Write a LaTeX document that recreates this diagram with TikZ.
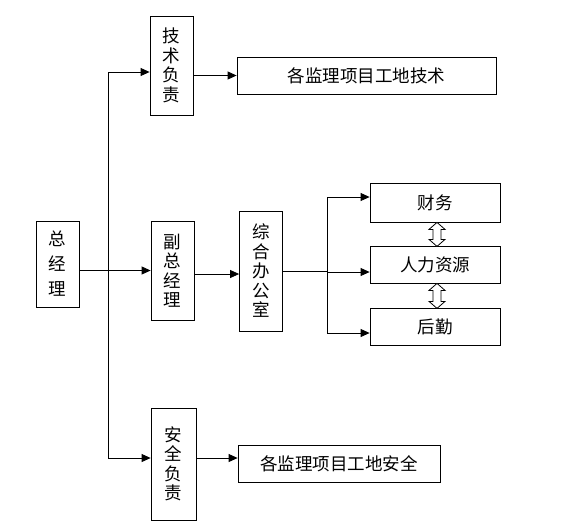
\documentclass[tikz,border=0pt]{standalone}
\usepackage{fontspec}
\setmainfont{Noto Sans CJK SC}
\usetikzlibrary{arrows.meta}

\tikzset{
  box/.style={draw, line width=0.8pt, inner sep=0pt, align=center,
    font=\fontsize{17.5}{19.5}\selectfont},
  arr/.style={line width=0.8pt, -{Triangle[length=9pt,width=8pt]}},
  link/.style={line width=0.8pt}
}

\begin{document}
\begin{tikzpicture}[x=1pt,y=-1pt]
  \useasboundingbox (0,0) rectangle (564,531);

  % Boxes
  \node[box, minimum width=43, minimum height=86,
    font=\fontsize{17.5}{25}\selectfont] (zjl) at (57.5,264) {总\\经\\理};
  \node[box, minimum width=43, minimum height=99] (jsfz) at (171.5,65.5) {技\\术\\负\\责};
  \node[box, minimum width=259, minimum height=37] (jsgd) at (366.5,75.5) {各监理项目工地技术};
  \node[box, minimum width=43, minimum height=99] (fzjl) at (172.5,270.5) {副\\总\\经\\理};
  \node[box, minimum width=43, minimum height=120] (zhbgs) at (261,271) {综\\合\\办\\公\\室};
  \node[box, minimum width=130, minimum height=39] (cw) at (435,202.5) {财务};
  \node[box, minimum width=130, minimum height=37] (rlzy) at (435,264.5) {人力资源};
  \node[box, minimum width=130, minimum height=37] (hq) at (435,326.5) {后勤};
  \node[box, minimum width=45, minimum height=112] (aqfz) at (173.5,464) {安\\全\\负\\责};
  \node[box, minimum width=202, minimum height=37] (aqgd) at (339,463.5) {各监理项目工地安全};

  % Trunk from the general manager
  \coordinate (tt) at (108,72);
  \coordinate (tb) at (108,458);
  \draw[arr] (tt) -- (tt -| jsfz.west);
  \draw[arr] (tt) -- (tb) -- (tb -| aqfz.west);
  \draw[arr] (zjl.east |- fzjl.west) -- (fzjl.west);

  % Second level
  \draw[arr] (jsfz.east |- jsgd.west) -- (jsgd.west);
  \draw[arr] (fzjl.east |- 0,274) -- (zhbgs.west |- 0,274);
  \draw[arr] (aqfz.east |- tb) -- (aqgd.west |- tb);

  % Branch of the office
  \coordinate (b0) at (327,271);
  \coordinate (b1) at (327,197);
  \coordinate (b2) at (327,272);
  \coordinate (b3) at (327,333);
  \draw[link] (zhbgs.east |- b0) -- (b0);
  \draw[link] (b1) -- (b3);
  \draw[arr] (b1) -- (b1 -| cw.west);
  \draw[arr] (b2) -- (b2 -| rlzy.west);
  \draw[arr] (b3) -- (b3 -| hq.west);

  % Hollow double arrows
  \foreach \a/\b/\l in {cw/rlzy/10, rlzy/hq/11}
    \draw[link, fill=white] ([xshift=2]\a.south) -- ++(8,7) -- ++(-4,0) -- ++(0,\l)
      -- ++(4,0) -- ++(-8,7) -- ++(-8,-7) -- ++(4,0) -- ++(0,-\l) -- ++(-4,0) -- cycle;
\end{tikzpicture}
\end{document}
